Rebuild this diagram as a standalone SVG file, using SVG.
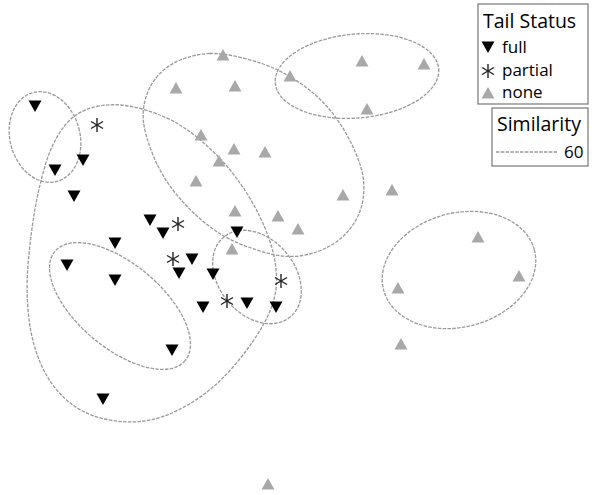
<svg xmlns="http://www.w3.org/2000/svg" xmlns:xlink="http://www.w3.org/1999/xlink" width="600" height="495" viewBox="0 0 600 495">
<style>
.ct{fill:none;stroke:#9a9a9a;stroke-width:1.3;stroke-dasharray:3.5 1.3}
.box{fill:#fff;stroke:#777;stroke-width:1.2}
.t1{font-family:"Open Sans","Liberation Sans",Arial,sans-serif;font-size:19.5px;fill:#000}
.t2{font-family:"Open Sans","Liberation Sans",Arial,sans-serif;font-size:17px;fill:#000}
</style>
<defs>
<path id="full" d="M-6.5,-5.5 L6.5,-5.5 L0,6 Z" fill="#000"/>
<path id="none" d="M-6.5,5.5 L6.5,5.5 L0,-6 Z" fill="#a8a8a8"/>
<g id="partial" stroke="#222" stroke-width="1.4" fill="none">
<line x1="0" y1="-7" x2="0" y2="7"/>
<line x1="-6" y1="-3.5" x2="6" y2="3.5"/>
<line x1="-6" y1="3.5" x2="6" y2="-3.5"/>
</g>
</defs>
<rect width="600" height="495" fill="#fff"/>
<g id="contours">
<ellipse class="ct" cx="45" cy="137" rx="35" ry="46" transform="rotate(-15 45 137)"/>
<path class="ct" d="M 96.5,106.5 Q 117,102 142,109 Q 167,116 184.5,128 Q 202,140 218.5,157 Q 235,174 248.5,196 Q 262,218 269.5,240 Q 277,262 276.5,282 Q 276,302 264,323.5 Q 252,345 233,367 Q 214,389 191,403 Q 168,417 147.5,420.5 Q 127,424 104.5,419 Q 82,414 65.5,399 Q 49,384 40,362 Q 31,340 28.5,315 Q 26,290 28,265 Q 30,240 34,215 Q 38,190 45,166 Q 52,142 64,126.5 Q 76,111 96.5,106.5 Z"/>
<path class="ct" d="M 210,53.5 Q 223,53 243,58 Q 263,63 277.5,70 Q 292,77 305.5,87 Q 319,97 329.5,109.5 Q 340,122 348,137 Q 356,152 360.5,166 Q 365,180 363.5,195.5 Q 362,211 353.5,224 Q 345,237 331.5,245 Q 318,253 302.5,255.5 Q 287,258 271,254 Q 255,250 238,243 Q 221,236 204.5,222.5 Q 188,209 174.5,192 Q 161,175 153,155 Q 145,135 143.5,122 Q 142,109 146.5,95.5 Q 151,82 161,72.5 Q 171,63 184,58.5 Q 197,54 210,53.5 Z"/>
<ellipse class="ct" cx="357" cy="76" rx="82" ry="42" transform="rotate(-5 357 76)"/>
<ellipse class="ct" cx="459" cy="270" rx="78" ry="57" transform="rotate(-15 459 270)"/>
<ellipse class="ct" cx="120" cy="306" rx="85" ry="42" transform="rotate(40 120 306)"/>
<ellipse class="ct" cx="257" cy="277" rx="52" ry="38" transform="rotate(50 257 277)"/>
</g>
<g id="points-none">
<use xlink:href="#none" x="223" y="55"/>
<use xlink:href="#none" x="176" y="88"/>
<use xlink:href="#none" x="235" y="86"/>
<use xlink:href="#none" x="290" y="76"/>
<use xlink:href="#none" x="362" y="61"/>
<use xlink:href="#none" x="424" y="64"/>
<use xlink:href="#none" x="367" y="109"/>
<use xlink:href="#none" x="201" y="135"/>
<use xlink:href="#none" x="234" y="149"/>
<use xlink:href="#none" x="265" y="152"/>
<use xlink:href="#none" x="219" y="161"/>
<use xlink:href="#none" x="196" y="181"/>
<use xlink:href="#none" x="343" y="195"/>
<use xlink:href="#none" x="392" y="190"/>
<use xlink:href="#none" x="235" y="211"/>
<use xlink:href="#none" x="278" y="216"/>
<use xlink:href="#none" x="298" y="229"/>
<use xlink:href="#none" x="232" y="249"/>
<use xlink:href="#none" x="478" y="237"/>
<use xlink:href="#none" x="519" y="276"/>
<use xlink:href="#none" x="398" y="288"/>
<use xlink:href="#none" x="401" y="344"/>
<use xlink:href="#none" x="268" y="484"/>
</g>
<g id="points-full">
<use xlink:href="#full" x="35" y="106"/>
<use xlink:href="#full" x="55" y="170"/>
<use xlink:href="#full" x="83" y="160"/>
<use xlink:href="#full" x="74" y="196"/>
<use xlink:href="#full" x="150" y="220"/>
<use xlink:href="#full" x="163" y="233"/>
<use xlink:href="#full" x="115" y="243"/>
<use xlink:href="#full" x="237" y="232"/>
<use xlink:href="#full" x="67" y="265"/>
<use xlink:href="#full" x="115" y="280"/>
<use xlink:href="#full" x="192" y="259"/>
<use xlink:href="#full" x="179" y="273"/>
<use xlink:href="#full" x="213" y="274"/>
<use xlink:href="#full" x="203" y="307"/>
<use xlink:href="#full" x="247" y="303"/>
<use xlink:href="#full" x="276" y="307"/>
<use xlink:href="#full" x="172" y="350"/>
<use xlink:href="#full" x="103" y="399"/>
</g>
<g id="points-partial">
<use xlink:href="#partial" x="97" y="125"/>
<use xlink:href="#partial" x="178" y="224"/>
<use xlink:href="#partial" x="173" y="259"/>
<use xlink:href="#partial" x="227" y="301"/>
<use xlink:href="#partial" x="281" y="281"/>
</g>
<g id="legend-status">
<rect class="box" x="478" y="4" width="110" height="100"/>
<text class="t1" x="483" y="28">Tail Status</text>
<use xlink:href="#full" x="488" y="47"/>
<text class="t2" x="502" y="53">full</text>
<use xlink:href="#partial" x="488" y="71"/>
<text class="t2" x="502" y="76">partial</text>
<use xlink:href="#none" x="488" y="93"/>
<text class="t2" x="502" y="98">none</text>
</g>
<g id="legend-similarity">
<rect class="box" x="492" y="108" width="96" height="58"/>
<text class="t1" x="497" y="131">Similarity</text>
<line class="ct" x1="496" y1="152" x2="557" y2="152"/>
<text class="t2" x="564" y="158">60</text>
</g>
</svg>
